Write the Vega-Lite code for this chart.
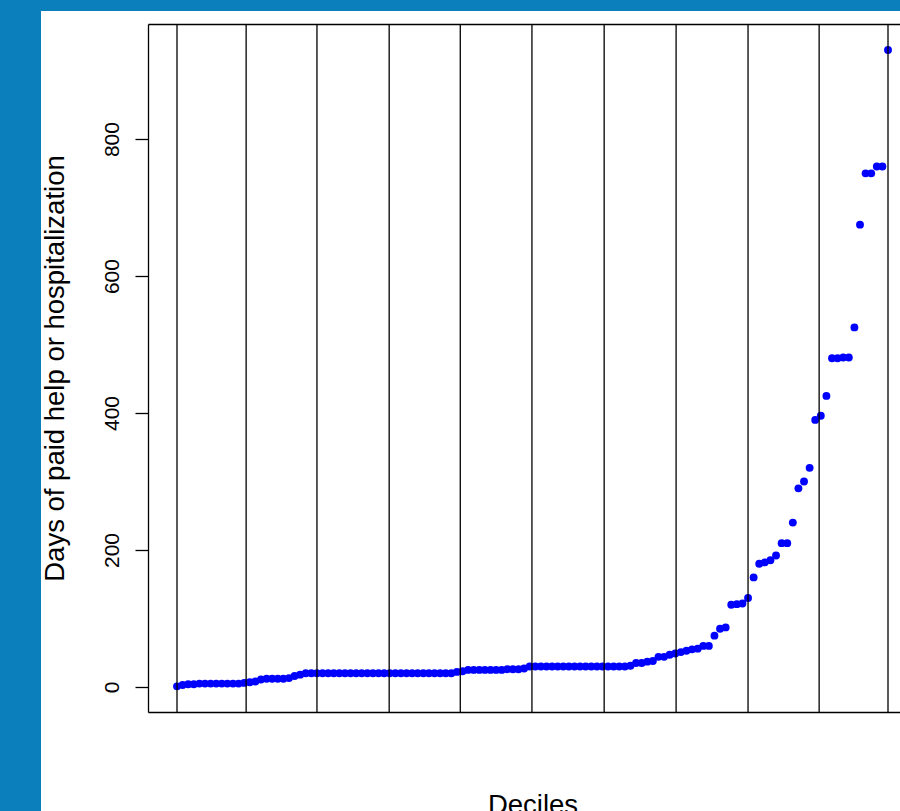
{
  "$schema": "https://vega.github.io/schema/vega-lite/v6.json",
  "autosize": "none",
  "width": 859,
  "height": 800,
  "padding": {"left": 41, "top": 11, "right": 0, "bottom": 0},
  "background": "#0b7fbb",
  "config": {"view": {"fill": "white", "stroke": null}, "font": "Liberation Sans"},
  "layer": [
    {
      "data": {"values": [
        {"i":1,"days":1},{"i":2,"days":3},{"i":3,"days":4},{"i":4,"days":4},{"i":5,"days":5},{"i":6,"days":5},{"i":7,"days":5},{"i":8,"days":5},
        {"i":9,"days":5},{"i":10,"days":5},{"i":11,"days":5},{"i":12,"days":5},{"i":13,"days":6},{"i":14,"days":7},{"i":15,"days":8},{"i":16,"days":11},
        {"i":17,"days":12},{"i":18,"days":12},{"i":19,"days":12},{"i":20,"days":12},{"i":21,"days":13},{"i":22,"days":16},{"i":23,"days":18},{"i":24,"days":20},
        {"i":25,"days":20},{"i":26,"days":20},{"i":27,"days":20},{"i":28,"days":20},{"i":29,"days":20},{"i":30,"days":20},{"i":31,"days":20},{"i":32,"days":20},
        {"i":33,"days":20},{"i":34,"days":20},{"i":35,"days":20},{"i":36,"days":20},{"i":37,"days":20},{"i":38,"days":20},{"i":39,"days":20},{"i":40,"days":20},
        {"i":41,"days":20},{"i":42,"days":20},{"i":43,"days":20},{"i":44,"days":20},{"i":45,"days":20},{"i":46,"days":20},{"i":47,"days":20},{"i":48,"days":20},
        {"i":49,"days":20},{"i":50,"days":20},{"i":51,"days":22},{"i":52,"days":23},{"i":53,"days":25},{"i":54,"days":25},{"i":55,"days":25},{"i":56,"days":25},
        {"i":57,"days":25},{"i":58,"days":25},{"i":59,"days":25},{"i":60,"days":26},{"i":61,"days":26},{"i":62,"days":26},{"i":63,"days":27},{"i":64,"days":30},
        {"i":65,"days":30},{"i":66,"days":30},{"i":67,"days":30},{"i":68,"days":30},{"i":69,"days":30},{"i":70,"days":30},{"i":71,"days":30},{"i":72,"days":30},
        {"i":73,"days":30},{"i":74,"days":30},{"i":75,"days":30},{"i":76,"days":30},{"i":77,"days":30},{"i":78,"days":30},{"i":79,"days":30},{"i":80,"days":30},
        {"i":81,"days":30},{"i":82,"days":31},{"i":83,"days":35},{"i":84,"days":35},{"i":85,"days":37},{"i":86,"days":38},{"i":87,"days":44},{"i":88,"days":44},
        {"i":89,"days":47},{"i":90,"days":49},{"i":91,"days":51},{"i":92,"days":53},{"i":93,"days":55},{"i":94,"days":56},{"i":95,"days":60},{"i":96,"days":60},
        {"i":97,"days":75},{"i":98,"days":85},{"i":99,"days":87},{"i":100,"days":120},{"i":101,"days":121},{"i":102,"days":122},{"i":103,"days":130},{"i":104,"days":160},
        {"i":105,"days":180},{"i":106,"days":182},{"i":107,"days":185},{"i":108,"days":192},{"i":109,"days":210},{"i":110,"days":210},{"i":111,"days":240},{"i":112,"days":290},
        {"i":113,"days":300},{"i":114,"days":320},{"i":115,"days":390},{"i":116,"days":396},{"i":117,"days":425},{"i":118,"days":480},{"i":119,"days":480},{"i":120,"days":481},
        {"i":121,"days":481},{"i":122,"days":525},{"i":123,"days":675},{"i":124,"days":750},{"i":125,"days":750},{"i":126,"days":760},{"i":127,"days":760},{"i":128,"days":930}
      ]},
      "mark": {"type": "circle", "color": "#0000ff", "size": 62, "opacity": 1},
      "encoding": {
        "x": {
          "field": "i", "type": "quantitative",
          "scale": {"domain": [-4.18, 133.18], "range": [107, 876], "nice": false, "zero": false},
          "axis": {"orient": "bottom", "offset": -99, "ticks": false, "labels": false, "grid": false,
                   "domainColor": "black", "domainWidth": 1.3, "title": "Deciles", "titleFontSize": 27.5,
                   "titleFontWeight": "normal", "titleColor": "black", "titleFont": "Liberation Sans",
                   "titleBaseline": "top", "titlePadding": 79, "minExtent": 0, "maxExtent": 300}
        },
        "y": {
          "field": "days", "type": "quantitative",
          "scale": {"domain": [-36.5, 968], "range": [701, 13], "nice": false, "zero": false},
          "axis": {"orient": "left", "offset": -107, "values": [0, 200, 400, 600, 800], "grid": false,
                   "tickSize": 13, "tickColor": "black", "tickWidth": 1.3, "domainColor": "black", "domainWidth": 1.3,
                   "labelAngle": -90, "labelAlign": "center", "labelBaseline": "alphabetic", "labelPadding": 17,
                   "labelFontSize": 21, "labelColor": "black", "labelFont": "Liberation Sans", "labelFlush": false,
                   "labelOverlap": false, "title": "Days of paid help or hospitalization", "titleFontSize": 27.5,
                   "titleFontWeight": "normal", "titleColor": "black", "titleFont": "Liberation Sans",
                   "titleBaseline": "alphabetic", "titlePadding": 38, "titleAngle": -90, "minExtent": 0, "maxExtent": 300}
        }
      }
    },
    {
      "data": {"values": [
        {"pos": 1}, {"pos": 13.35}, {"pos": 26.0}, {"pos": 38.9}, {"pos": 51.6}, {"pos": 64.4},
        {"pos": 77.3}, {"pos": 90.15}, {"pos": 103.0}, {"pos": 115.7}, {"pos": 128}
      ]},
      "mark": {"type": "rule", "color": "black", "strokeWidth": 1.3},
      "encoding": {
        "x": {
          "field": "pos", "type": "quantitative",
          "scale": {"domain": [-4.18, 133.18], "range": [107, 876], "nice": false, "zero": false},
          "axis": {"orient": "top", "offset": -13, "ticks": false, "labels": false, "grid": false, "title": null,
                   "domainColor": "black", "domainWidth": 1.3, "minExtent": 0, "maxExtent": 300}
        },
        "y": {"datum": -36.5, "type": "quantitative",
              "scale": {"domain": [-36.5, 968], "range": [701, 13], "nice": false, "zero": false}, "axis": null},
        "y2": {"datum": 968}
      }
    }
  ],
  "resolve": {"axis": {"x": "independent", "y": "independent"}}
}
